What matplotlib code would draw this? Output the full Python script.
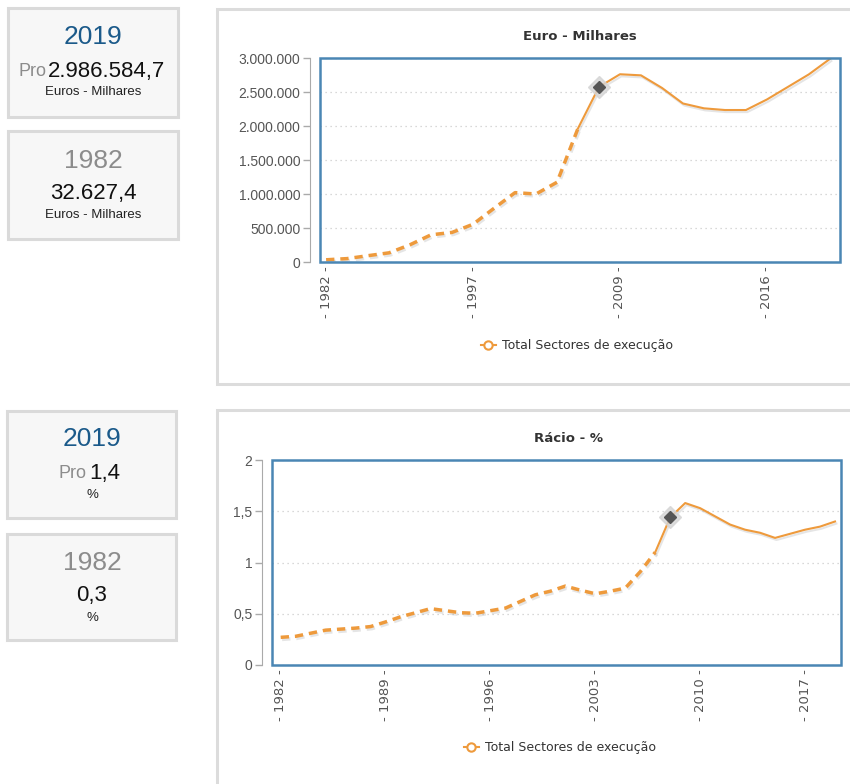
import matplotlib
matplotlib.use('Agg')
import matplotlib.pyplot as plt
import matplotlib.patheffects as pe
from matplotlib.patches import Rectangle
from matplotlib.lines import Line2D
from matplotlib.ticker import FuncFormatter

# dados
anos_euro = ['1982', '1984', '1986', '1988', '1990', '1992', '1995', '1997', '1999', '2001',
             '2003', '2005', '2007', '2008', '2009', '2010', '2011', '2012', '2013', '2014',
             '2015', '2016', '2017', '2018', '2019']
euro = [32627.4, 50000, 93000, 135000, 254000, 400000, 435000, 555000, 790000, 1020000,
        1000000, 1173000, 1965000, 2575000, 2761000, 2745000, 2560000, 2331000, 2260000, 2235000,
        2235000, 2390000, 2575000, 2760000, 2986584.7]
anos_racio = [str(a) for a in range(1982, 2020)]
racio = [0.27, 0.28, 0.31, 0.34, 0.35, 0.36, 0.375, 0.42, 0.47, 0.51,
         0.55, 0.53, 0.51, 0.505, 0.53, 0.555, 0.62, 0.685, 0.72, 0.77,
         0.73, 0.695, 0.72, 0.75, 0.91, 1.10, 1.44, 1.58, 1.53, 1.45,
         1.37, 1.32, 1.29, 1.24, 1.28, 1.32, 1.35, 1.40]
ano_quebra = '2007'   # tracejado até aqui
ano_marca = '2008'    # quebra de série

W, H = 850, 784
LARANJA = '#ee9a3c'
AZUL = '#4a86b4'

plt.rcParams['font.family'] = ['Liberation Sans', 'DejaVu Sans']
fig = plt.figure(figsize=(W / 100, H / 100), dpi=100)


def fx(x):
    return x / W


def fy(y):
    return 1 - y / H


def caixa(x0, y0, x1, y1, **kw):
    r = Rectangle((fx(x0), fy(y1)), fx(x1) - fx(x0), fy(y0) - fy(y1), transform=fig.transFigure,
                  zorder=-5, **kw)
    fig.patches.append(r)


# caixas da esquerda
caixa(8, 8, 178, 117, facecolor='#f7f7f7', edgecolor='#dadada', lw=2.2)
caixa(8, 131, 178, 239, facecolor='#f7f7f7', edgecolor='#dadada', lw=2.2)
caixa(7, 411, 176, 518, facecolor='#f7f7f7', edgecolor='#dadada', lw=2.2)
caixa(7, 534, 176, 640, facecolor='#f7f7f7', edgecolor='#dadada', lw=2.2)

# paineis da direita
caixa(217, 9, 870, 384, facecolor='white', edgecolor='#dcdcdc', lw=2.2)
caixa(217, 410, 870, 800, facecolor='white', edgecolor='#dcdcdc', lw=2.2)


def txt(x, y, s, **kw):
    fig.text(fx(x), fy(y), s, va='center', **kw)


txt(93, 37, '2019', ha='center', fontsize=19, color='#1b5a8a')
txt(47, 72, 'Pro', ha='right', fontsize=13, color='#8c8c8c')
txt(48, 72, '2.986.584,7', ha='left', fontsize=16, color='#111111')
txt(93, 92, 'Euros - Milhares', ha='center', fontsize=9.5, color='#222222')
txt(93, 161, '1982', ha='center', fontsize=19, color='#8c8c8c')
txt(93, 193, '32.627,4', ha='center', fontsize=16, color='#111111')
txt(93, 215, 'Euros - Milhares', ha='center', fontsize=9.5, color='#222222')

txt(92, 439, '2019', ha='center', fontsize=19, color='#1b5a8a')
txt(87, 473, 'Pro', ha='right', fontsize=13, color='#8c8c8c')
txt(89, 473, '1,4', ha='left', fontsize=16, color='#111111')
txt(92, 495, '%', ha='center', fontsize=9.5, color='#222222')
txt(92, 563, '1982', ha='center', fontsize=19, color='#8c8c8c')
txt(92, 596, '0,3', ha='center', fontsize=16, color='#111111')
txt(92, 618, '%', ha='center', fontsize=9.5, color='#222222')


def grafico(rect, anos, vals, passo, yticks, fmt, titulo, tpos, legpos):
    ax = fig.add_axes([fx(rect[0]), fy(rect[3]), fx(rect[2]) - fx(rect[0]), fy(rect[1]) - fy(rect[3])])
    ax.patch.set_alpha(0)
    x = list(range(len(anos)))
    iq = anos.index(ano_quebra)
    im = anos.index(ano_marca)
    sombra = [pe.SimpleLineShadow(offset=(1.0, -1.5), shadow_color='#999999', alpha=0.25), pe.Normal()]
    ax.plot(x[:iq + 1], vals[:iq + 1], color=LARANJA, lw=2.5, dashes=(2.4, 1.7),
            path_effects=sombra, zorder=3)
    ax.plot(x[iq:], vals[iq:], color=LARANJA, lw=1.5, path_effects=sombra, zorder=3)
    ax.plot(x[im], vals[im], marker='D', ms=11, color='#d4d4d4', alpha=0.8, zorder=4)
    ax.plot(x[im], vals[im], marker='D', ms=6.5, color='#555555', zorder=5)

    ax.set_ylim(yticks[0], yticks[-1])
    ax.set_yticks(yticks)
    ax.yaxis.set_major_formatter(FuncFormatter(fmt))
    ax.set_xticks(x[::passo])
    ax.set_xticklabels(['- ' + a + ' -' for a in anos[::passo]], rotation=90)
    ax.tick_params(axis='x', length=0, pad=3, labelsize=9.5, labelcolor='#555555')
    ax.tick_params(axis='y', length=5, width=1, color='#aaaaaa', pad=2, labelsize=10, labelcolor='#555555')
    for t in ax.get_xticklabels() + ax.get_yticklabels():
        t.set_fontfamily('DejaVu Sans')
    ax.grid(axis='y', color='#cccccc', lw=0.9, linestyle=(0, (1, 3)))
    for s in ['top', 'right', 'bottom']:
        ax.spines[s].set_visible(False)
    ax.spines['left'].set_position(('outward', 7))
    ax.spines['left'].set_color('#aaaaaa')
    ax.add_patch(Rectangle((0, 0), 1, 1, transform=ax.transAxes, fill=False, edgecolor=AZUL,
                           lw=1.8, clip_on=False, zorder=6))
    fig.text(fx(tpos[0]), fy(tpos[1]), titulo, ha='center', va='center', fontsize=9.5,
             fontweight='bold', color='#333333', family='DejaVu Sans')
    h = Line2D([], [], color=LARANJA, lw=1.5, marker='o', ms=6, mfc='white', mec=LARANJA, mew=1.5)
    ax.legend(handles=[h], labels=['Total Sectores de execução'], loc='center',
              bbox_to_anchor=(fx(legpos[0]), fy(legpos[1])), bbox_transform=fig.transFigure,
              frameon=False, handlelength=1.2, handletextpad=0.5,
              prop={'family': 'DejaVu Sans', 'size': 9}, labelcolor='#333333')
    return ax


ax1 = grafico((320, 58, 840, 262), anos_euro, euro, 7,
              [0, 500000, 1000000, 1500000, 2000000, 2500000, 3000000],
              lambda v, p: f'{int(v):,}'.replace(',', '.'),
              'Euro - Milhares', (580, 36), (577, 346))
ax1.set_xlim(-0.29, 24.48)

ax2 = grafico((272, 460, 841, 665), anos_racio, racio, 7,
              [0, 0.5, 1, 1.5, 2],
              lambda v, p: f'{v:g}'.replace('.', ','),
              'Rácio - %', (569, 438), (560, 748))
ax2.set_xlim(-0.58, 37.4)

fig.savefig('out.png', dpi=100)
